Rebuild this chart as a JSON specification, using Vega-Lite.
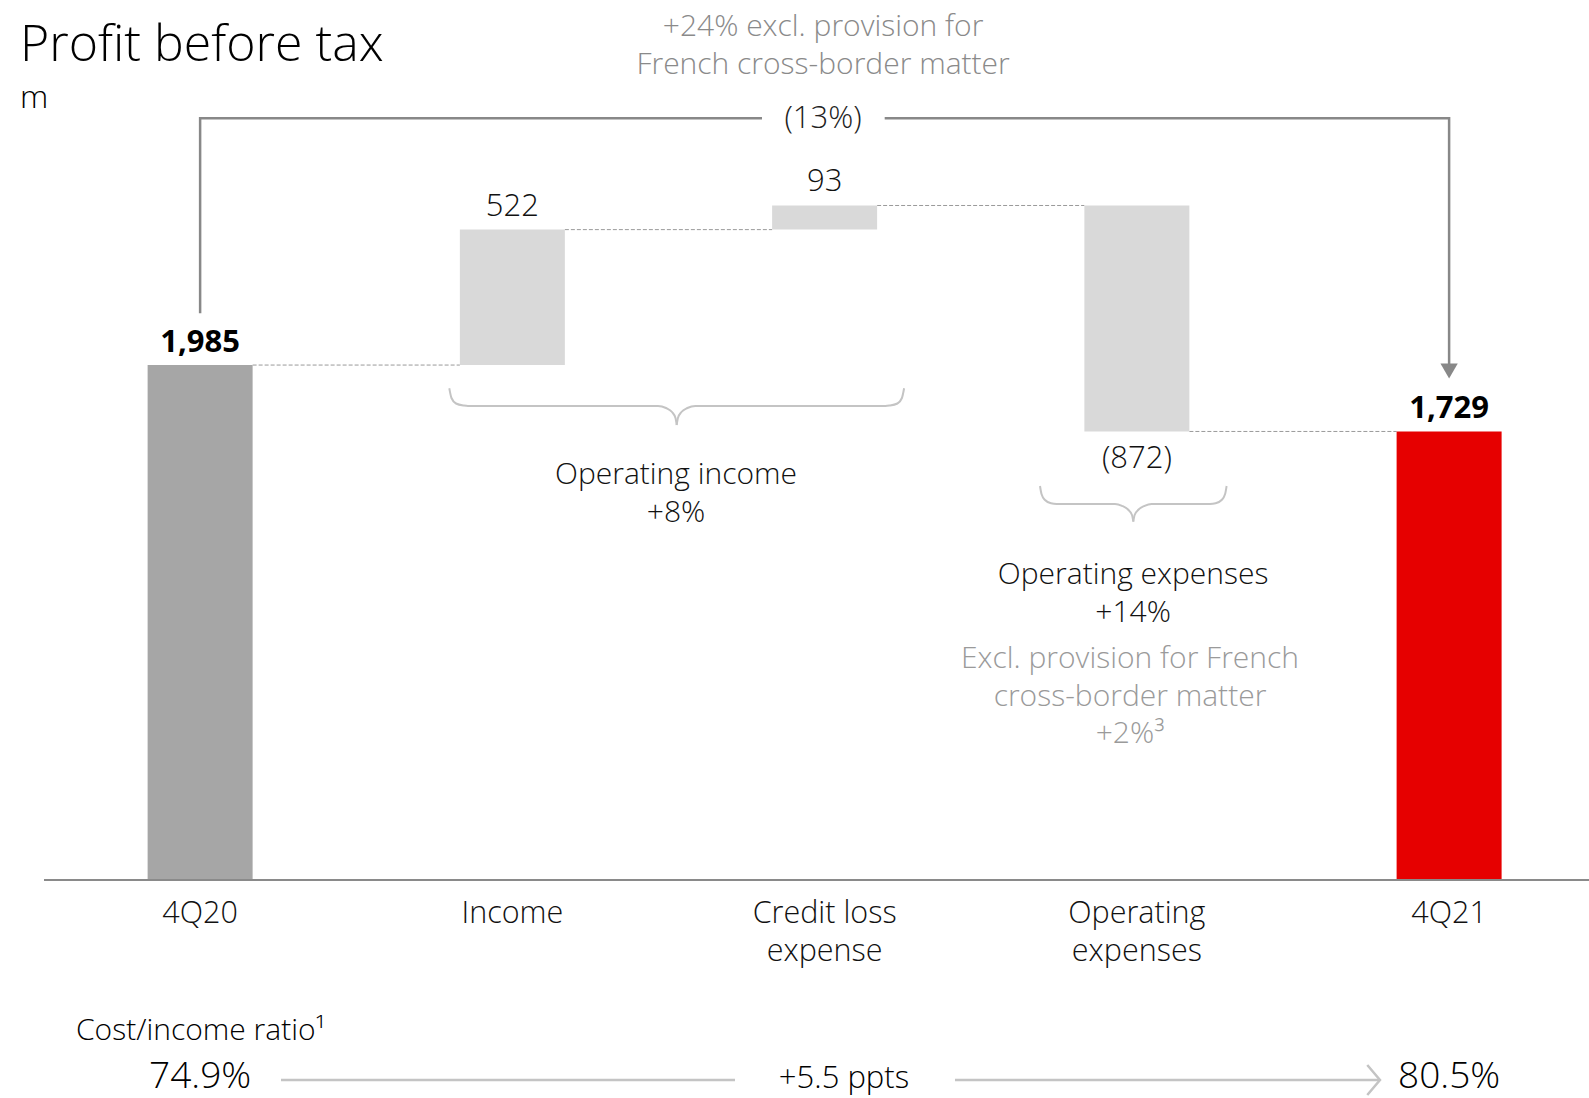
{
  "$schema": "https://vega.github.io/schema/vega-lite/v6.json",
  "width": 1545,
  "height": 1098,
  "autosize": {"type": "none"},
  "padding": {"left": 44, "top": 0, "right": 0, "bottom": 0},
  "background": "white",
  "config": {"view": {"stroke": null}, "font": "Open Sans", "text": {"font": "Open Sans"}},
  "datasets": {
    "steps": [
      {"pos": 0, "name": "4Q20", "start": 0, "end": 1985, "label": "1,985", "kind": "total"},
      {"pos": 1, "name": "Income", "start": 1985, "end": 2507, "label": "522", "kind": "delta"},
      {"pos": 2, "name": "Credit loss\nexpense", "start": 2507, "end": 2600, "label": "93", "kind": "delta"},
      {"pos": 3, "name": "Operating\nexpenses", "start": 2600, "end": 1729, "label": "(872)", "kind": "delta"},
      {"pos": 4, "name": "4Q21", "start": 0, "end": 1729, "label": "1,729", "kind": "final"}
    ],
    "connectors": [
      {"from": 0, "to": 1, "level": 1985},
      {"from": 1, "to": 2, "level": 2507},
      {"from": 2, "to": 3, "level": 2600},
      {"from": 3, "to": 4, "level": 1729}
    ],
    "bracket": [
      {"seg": "L", "i": 0, "x": 0, "y": 2184.5},
      {"seg": "L", "i": 1, "x": 0, "y": 2936},
      {"seg": "L", "i": 2, "x": 1.7994, "y": 2936},
      {"seg": "R", "i": 0, "x": 2.1924, "y": 2936},
      {"seg": "R", "i": 1, "x": 4, "y": 2936},
      {"seg": "R", "i": 2, "x": 4, "y": 1989}
    ],
    "braces": [
      {"part": "b1L", "x": 0.7980, "y": 1895.4},
      {"part": "b1L", "x": 0.8050, "y": 1858.0},
      {"part": "b1L", "x": 0.8195, "y": 1836.8},
      {"part": "b1L", "x": 0.8451, "y": 1828.7},
      {"part": "b1L", "x": 0.8579, "y": 1827.2},
      {"part": "b1L", "x": 1.4664, "y": 1827.2},
      {"part": "b1L", "x": 1.4920, "y": 1819.5},
      {"part": "b1L", "x": 1.5112, "y": 1804.0},
      {"part": "b1L", "x": 1.5224, "y": 1780.9},
      {"part": "b1L", "x": 1.5263, "y": 1753.9},
      {"part": "b1R", "x": 1.5263, "y": 1753.9},
      {"part": "b1R", "x": 1.5302, "y": 1780.9},
      {"part": "b1R", "x": 1.5414, "y": 1804.0},
      {"part": "b1R", "x": 1.5606, "y": 1819.5},
      {"part": "b1R", "x": 1.5862, "y": 1827.2},
      {"part": "b1R", "x": 2.1947, "y": 1827.2},
      {"part": "b1R", "x": 2.2075, "y": 1828.7},
      {"part": "b1R", "x": 2.2331, "y": 1836.8},
      {"part": "b1R", "x": 2.2476, "y": 1858.0},
      {"part": "b1R", "x": 2.2546, "y": 1895.4},
      {"part": "b2L", "x": 2.6898, "y": 1518.8},
      {"part": "b2L", "x": 2.6946, "y": 1488.0},
      {"part": "b2L", "x": 2.7058, "y": 1464.9},
      {"part": "b2L", "x": 2.7250, "y": 1452.1},
      {"part": "b2L", "x": 2.7432, "y": 1449.4},
      {"part": "b2L", "x": 2.9299, "y": 1449.4},
      {"part": "b2L", "x": 2.9524, "y": 1442.5},
      {"part": "b2L", "x": 2.9716, "y": 1428.2},
      {"part": "b2L", "x": 2.9844, "y": 1407.0},
      {"part": "b2L", "x": 2.9886, "y": 1381.2},
      {"part": "b2R", "x": 2.9886, "y": 1381.2},
      {"part": "b2R", "x": 2.9928, "y": 1407.0},
      {"part": "b2R", "x": 3.0056, "y": 1428.2},
      {"part": "b2R", "x": 3.0248, "y": 1442.5},
      {"part": "b2R", "x": 3.0473, "y": 1449.4},
      {"part": "b2R", "x": 3.2340, "y": 1449.4},
      {"part": "b2R", "x": 3.2522, "y": 1452.1},
      {"part": "b2R", "x": 3.2714, "y": 1464.9},
      {"part": "b2R", "x": 3.2826, "y": 1488.0},
      {"part": "b2R", "x": 3.2874, "y": 1518.8}
    ],
    "ratioArrow": [
      {"seg": "a", "i": 0, "x": 0.259, "y": -770.6},
      {"seg": "a", "i": 1, "x": 1.713, "y": -770.6},
      {"seg": "b", "i": 0, "x": 2.4175, "y": -770.6},
      {"seg": "b", "i": 1, "x": 3.7786, "y": -770.6},
      {"seg": "c", "i": 0, "x": 3.7379, "y": -712.8},
      {"seg": "c", "i": 1, "x": 3.7786, "y": -770.6},
      {"seg": "c", "i": 2, "x": 3.7379, "y": -828.4}
    ],
    "ratios": [
      {"pos": 0, "label": "74.9%"},
      {"pos": 4, "label": "80.5%"}
    ]
  },
  "layer": [
    {
      "data": {"name": "connectors"},
      "mark": {"type": "rule", "color": "#9a9a9a", "strokeWidth": 1, "strokeDash": [4, 2], "xOffset": 52.5, "x2Offset": -52.5},
      "encoding": {
        "x": {"field": "from", "type": "quantitative", "scale": {"domain": [-0.5, 4.448], "nice": false, "zero": false, "padding": 0}, "axis": null},
        "x2": {"field": "to"},
        "y": {"field": "level", "type": "quantitative", "scale": {"domain": [-840, 3392], "nice": false, "zero": false, "padding": 0}, "axis": null}
      }
    },
    {
      "data": {"name": "steps"},
      "mark": {"type": "bar", "width": 105},
      "encoding": {
        "x": {"field": "pos", "type": "quantitative", "scale": {"domain": [-0.5, 4.448], "nice": false, "zero": false, "padding": 0}, "axis": null},
        "y": {"field": "start", "type": "quantitative", "scale": {"domain": [-840, 3392], "nice": false, "zero": false, "padding": 0}, "axis": null},
        "y2": {"field": "end"},
        "color": {"field": "kind", "type": "nominal", "scale": {"domain": ["total", "delta", "final"], "range": ["#a6a6a6", "#d9d9d9", "#e60000"]}, "legend": null}
      }
    },
    {
      "data": {"values": [{"level": 0}]},
      "mark": {"type": "rule", "color": "#8a8a8a", "strokeWidth": 2},
      "encoding": {
        "y": {"field": "level", "type": "quantitative"}
      }
    },
    {
      "data": {"name": "steps"},
      "transform": [{"filter": "datum.kind != 'delta'"}],
      "mark": {"type": "text", "fontSize": 31, "fontWeight": "bold", "color": "#000000", "align": "center", "baseline": "alphabetic", "dy": -13},
      "encoding": {
        "x": {"field": "pos", "type": "quantitative"},
        "y": {"field": "end", "type": "quantitative"},
        "text": {"field": "label"}
      }
    },
    {
      "data": {"name": "steps"},
      "transform": [{"filter": "datum.kind == 'delta' && datum.end > datum.start"}],
      "mark": {"type": "text", "fontSize": 31, "fontWeight": 300, "color": "#111111", "align": "center", "baseline": "alphabetic", "dy": -14},
      "encoding": {
        "x": {"field": "pos", "type": "quantitative"},
        "y": {"field": "end", "type": "quantitative"},
        "text": {"field": "label"}
      }
    },
    {
      "data": {"name": "steps"},
      "transform": [{"filter": "datum.kind == 'delta' && datum.end < datum.start"}],
      "mark": {"type": "text", "fontSize": 31, "fontWeight": 300, "color": "#111111", "align": "center", "baseline": "alphabetic", "dy": 37},
      "encoding": {
        "x": {"field": "pos", "type": "quantitative"},
        "y": {"field": "end", "type": "quantitative"},
        "text": {"field": "label"}
      }
    },
    {
      "data": {"name": "steps"},
      "mark": {"type": "text", "fontSize": 30.5, "fontWeight": 300, "color": "#111111", "align": "center", "baseline": "alphabetic", "dy": 43, "lineBreak": "\n", "lineHeight": 38},
      "encoding": {
        "x": {"field": "pos", "type": "quantitative"},
        "y": {"datum": 0, "type": "quantitative"},
        "text": {"field": "name"}
      }
    },
    {
      "data": {"name": "bracket"},
      "mark": {"type": "line", "color": "#888888", "strokeWidth": 2.5},
      "encoding": {
        "x": {"field": "x", "type": "quantitative"},
        "y": {"field": "y", "type": "quantitative"},
        "detail": {"field": "seg"},
        "order": {"field": "i"}
      }
    },
    {
      "data": {"values": [{"x": 4, "y": 1962}]},
      "mark": {"type": "point", "shape": "triangle-down", "size": 300, "filled": true, "color": "#888888", "opacity": 1, "strokeWidth": 0},
      "encoding": {
        "x": {"field": "x", "type": "quantitative"},
        "y": {"field": "y", "type": "quantitative"}
      }
    },
    {
      "data": {"values": [{"x": 1.995, "y": 2936, "text": "(13%)"}]},
      "mark": {"type": "text", "fontSize": 31, "fontWeight": 300, "color": "#222222", "align": "center", "baseline": "alphabetic", "dy": 10},
      "encoding": {
        "x": {"field": "x", "type": "quantitative"},
        "y": {"field": "y", "type": "quantitative"},
        "text": {"field": "text"}
      }
    },
    {
      "data": {"values": [{"x": 1.995, "y": 3253.2, "text": "+24% excl. provision for\nFrench cross-border matter"}]},
      "mark": {"type": "text", "fontSize": 30, "fontWeight": 300, "color": "#8a8a8a", "align": "center", "baseline": "alphabetic", "lineBreak": "\n", "lineHeight": 38},
      "encoding": {
        "x": {"field": "x", "type": "quantitative"},
        "y": {"field": "y", "type": "quantitative"},
        "text": {"field": "text"}
      }
    },
    {
      "data": {"name": "braces"},
      "mark": {"type": "line", "color": "#c4c4c4", "strokeWidth": 2, "interpolate": "monotone"},
      "encoding": {
        "x": {"field": "x", "type": "quantitative"},
        "y": {"field": "y", "type": "quantitative"},
        "detail": {"field": "part"}
      }
    },
    {
      "data": {"values": [
        {"x": 1.524, "y": 1524.9, "text": "Operating income\n+8%"},
        {"x": 2.988, "y": 1139.2, "text": "Operating expenses\n+14%"}
      ]},
      "mark": {"type": "text", "fontSize": 30, "fontWeight": 300, "color": "#111111", "align": "center", "baseline": "alphabetic", "lineBreak": "\n", "lineHeight": 38},
      "encoding": {
        "x": {"field": "x", "type": "quantitative"},
        "y": {"field": "y", "type": "quantitative"},
        "text": {"field": "text"}
      }
    },
    {
      "data": {"values": [{"x": 2.978, "y": 817.3, "text": "Excl. provision for French\ncross-border matter\n+2%³"}]},
      "mark": {"type": "text", "fontSize": 30, "fontWeight": 300, "color": "#9a9a9a", "align": "center", "baseline": "alphabetic", "lineBreak": "\n", "lineHeight": 37.5},
      "encoding": {
        "x": {"field": "x", "type": "quantitative"},
        "y": {"field": "y", "type": "quantitative"},
        "text": {"field": "text"}
      }
    },
    {
      "data": {"values": [
        {"x": -0.5769, "y": 3156.9, "text": "Profit before tax"}
      ]},
      "mark": {"type": "text", "fontSize": 50, "fontWeight": 300, "color": "#000000", "align": "left", "baseline": "alphabetic"},
      "encoding": {
        "x": {"field": "x", "type": "quantitative"},
        "y": {"field": "y", "type": "quantitative"},
        "text": {"field": "text"}
      }
    },
    {
      "data": {"values": [
        {"x": -0.5769, "y": 2975.7, "text": "m"}
      ]},
      "mark": {"type": "text", "fontSize": 32, "fontWeight": 300, "color": "#000000", "align": "left", "baseline": "alphabetic"},
      "encoding": {
        "x": {"field": "x", "type": "quantitative"},
        "y": {"field": "y", "type": "quantitative"},
        "text": {"field": "text"}
      }
    },
    {
      "data": {"values": [
        {"x": -0.3975, "y": -616.5, "text": "Cost/income ratio¹"}
      ]},
      "mark": {"type": "text", "fontSize": 30, "fontWeight": 300, "color": "#000000", "align": "left", "baseline": "alphabetic"},
      "encoding": {
        "x": {"field": "x", "type": "quantitative"},
        "y": {"field": "y", "type": "quantitative"},
        "text": {"field": "text"}
      }
    },
    {
      "data": {"name": "ratioArrow"},
      "mark": {"type": "line", "color": "#c4c4c4", "strokeWidth": 2.5},
      "encoding": {
        "x": {"field": "x", "type": "quantitative"},
        "y": {"field": "y", "type": "quantitative"},
        "detail": {"field": "seg"},
        "order": {"field": "i"}
      }
    },
    {
      "data": {"name": "ratios"},
      "mark": {"type": "text", "fontSize": 37, "fontWeight": 300, "color": "#000000", "align": "center", "baseline": "alphabetic"},
      "encoding": {
        "x": {"field": "pos", "type": "quantitative"},
        "y": {"datum": -803, "type": "quantitative"},
        "text": {"field": "label"}
      }
    },
    {
      "data": {"values": [{"x": 2.062, "y": -803, "text": "+5.5 ppts"}]},
      "mark": {"type": "text", "fontSize": 31, "fontWeight": 300, "color": "#000000", "align": "center", "baseline": "alphabetic"},
      "encoding": {
        "x": {"field": "x", "type": "quantitative"},
        "y": {"field": "y", "type": "quantitative"},
        "text": {"field": "text"}
      }
    }
  ]
}
